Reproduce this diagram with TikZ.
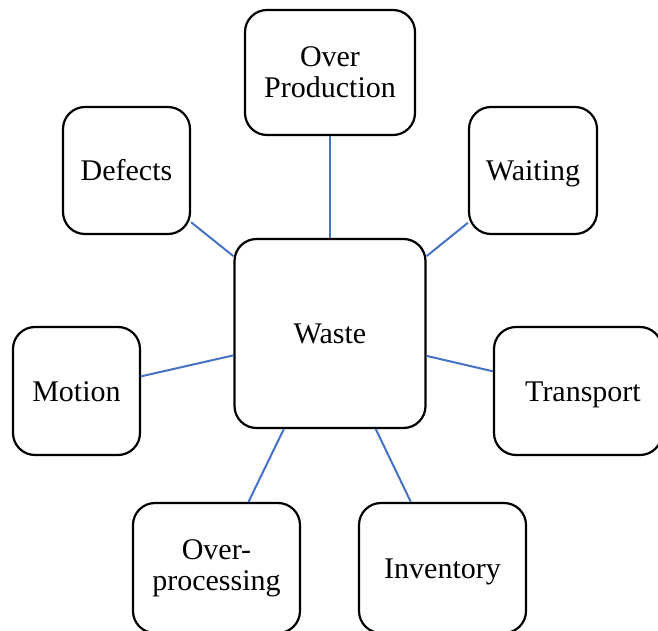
\documentclass[tikz,border=0pt]{standalone}
\usepackage{fontspec}
\setmainfont{Liberation Serif}
\definecolor{linkblue}{RGB}{68,114,196}
\begin{document}
\begin{tikzpicture}[x=1pt,y=-1pt,
  wastebox/.style={draw=black, line width=2.2pt, rounded corners=22pt, fill=white,
    align=center, inner sep=0pt, font=\fontsize{30}{31}\selectfont},
  oneline/.style={text height=27pt, text depth=7pt},
  link/.style={draw=linkblue, line width=2pt}]
  \clip (0,0) rectangle (658,631);
  \useasboundingbox (0,0) rectangle (658,631);
  % central node
  \node[wastebox, oneline, minimum width=191pt, minimum height=189pt] (waste) at (330,333.5) {Waste};
  % surrounding kinds of waste
  \node[wastebox, minimum width=170pt, minimum height=125pt] (op) at (330,72.5) {Over\\Production};
  \node[wastebox, oneline, minimum width=127pt, minimum height=127pt] (defects) at (126.5,170.5) {Defects};
  \node[wastebox, oneline, minimum width=128pt, minimum height=127pt] (waiting) at (533,170.5) {Waiting};
  \node[wastebox, oneline, minimum width=127pt, minimum height=128pt] (motion) at (76.5,391) {Motion};
  \node[wastebox, oneline, minimum width=168pt, minimum height=128pt] (transport) at (578,391) {\hspace*{10pt}Transport};
  \node[wastebox, minimum width=167pt, minimum height=130pt] (overproc) at (216.5,568) {Over-\\processing};
  \node[wastebox, oneline, minimum width=167pt, minimum height=130pt] (inventory) at (442.5,568) {Inventory};
  % connectors
  \foreach \n in {op,defects,waiting,motion,transport,overproc,inventory}
    \draw[link] (\n) -- (waste);
\end{tikzpicture}
\end{document}
